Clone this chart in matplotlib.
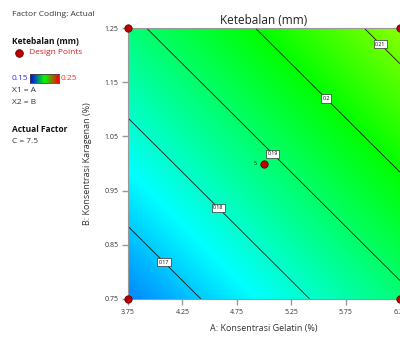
import numpy as np
import matplotlib
matplotlib.use("Agg")
import matplotlib.pyplot as plt
from matplotlib.colors import LinearSegmentedColormap

# Fitted linear model for Ketebalan (mm): Z = b0 + bA*A + bB*B
intercept = 0.0883
coef_A = 0.01
coef_B = 0.05
a_range = [3.75, 6.25]
b_range = [0.75, 1.25]
x_ticks = [3.75, 4.25, 4.75, 5.25, 5.75, 6.25]
y_ticks = [0.75, 0.85, 0.95, 1.05, 1.15, 1.25]
contour_levels = [0.17, 0.18, 0.19, 0.20, 0.21]
contour_label_text = ["0.17", "0.18", "0.19", "0.2", "0.21"]
label_pos_A = [4.08, 4.58, 5.08, 5.57, 6.07]
design_A = [3.75, 3.75, 6.25, 6.25, 5.0]
design_B = [0.75, 1.25, 0.75, 1.25, 1.0]
color_min, color_max = 0.15, 0.25

cmap = LinearSegmentedColormap.from_list(
    "de", [(0, 0, 1), (0, 1, 1), (0, 1, 0), (1, 1, 0), (1, 0, 0)])

fig = plt.figure(figsize=(4.0, 3.38), dpi=100)
plt.rcParams['font.family'] = ['Open Sans', 'DejaVu Sans']
ax = fig.add_axes([0.32, 0.1154, 0.68, 0.8017])

A = np.linspace(a_range[0], a_range[1], 300)
B = np.linspace(b_range[0], b_range[1], 300)
AA, BB = np.meshgrid(A, B)
Z = intercept + coef_A * AA + coef_B * BB

ax.imshow(Z, extent=[a_range[0], a_range[1], b_range[0], b_range[1]],
          origin="lower", aspect="auto", cmap=cmap, vmin=color_min,
          vmax=color_max, interpolation="bilinear")
cs = ax.contour(AA, BB, Z, levels=contour_levels, colors="#1a1a1a",
                linewidths=0.6)

for lev, txt, la in zip(contour_levels, contour_label_text, label_pos_A):
    lb = (lev - intercept - coef_A * la) / coef_B
    ax.text(la, lb, txt, fontsize=3.8, ha="center", va="center",
            bbox=dict(boxstyle="square,pad=0.3", fc="white", ec="#333333",
                      lw=0.5), zorder=5)

ax.scatter(design_A, design_B, s=28, c="#c00000", edgecolors="#600000",
           linewidths=0.6, zorder=6, clip_on=False)
ax.text(5.0 - 0.07, 1.0, "5", fontsize=3.8, ha="right", va="center",
        zorder=6)

ax.set_xlim(a_range)
ax.set_ylim(b_range)
ax.set_xticks(x_ticks)
ax.set_xticklabels([f"{v:.2f}" for v in x_ticks])
ax.set_yticks(y_ticks)
ax.set_yticklabels([f"{v:.2f}" for v in y_ticks])
ax.tick_params(direction="out", length=4, width=1, color="#999999",
               labelsize=5, labelcolor="#333333", pad=3)
for s in ax.spines.values():
    s.set_color("#999999")
    s.set_linewidth(0.8)

ax.set_title("Ketebalan (mm)", fontsize=8.5, color="#222222", pad=3)
ax.set_xlabel("A: Konsentrasi Gelatin (%)", fontsize=6.5, color="#333333",
              labelpad=6)
ax.set_ylabel("B: Konsentrasi Karagenan (%)", fontsize=6.5, color="#333333",
              labelpad=9)

# Left legend panel
def ft(xp, yp, s, **kw):
    fig.text(xp / 400, 1 - yp / 338, s, va="center", ha="left", **kw)

ft(12, 15, "Factor Coding: Actual", fontsize=6, color="#333333")
ft(12, 41, "Ketebalan (mm)", fontsize=6, color="#111111", weight="bold")
fig.add_artist(plt.Line2D([19 / 400], [1 - 53 / 338], marker="o",
                          markersize=5.5, color="#c00000",
                          markeredgecolor="#600000", markeredgewidth=0.6,
                          transform=fig.transFigure))
ft(29, 53, "Design Points", fontsize=6, color="#d02020")
ft(12, 78, "0.15", fontsize=6, color="#3030ff")
cax = fig.add_axes([30 / 400, 1 - 83 / 338, 29 / 400, 9 / 338])
cax.imshow(np.linspace(0, 1, 100)[None, :], aspect="auto",
           cmap=LinearSegmentedColormap.from_list(
               "lg", [(0, 0, 1), (0, 1, 0), (1, 0, 0)]))
cax.set_xticks([])
cax.set_yticks([])
for s in cax.spines.values():
    s.set_color("#444444")
    s.set_linewidth(0.6)
ft(61, 78, "0.25", fontsize=6, color="#ff3030")
ft(12, 91, "X1 = A", fontsize=6, color="#333333")
ft(12, 103, "X2 = B", fontsize=6, color="#333333")
ft(12, 129, "Actual Factor", fontsize=6, color="#111111", weight="bold")
ft(12, 142, "C = 7.5", fontsize=6, color="#333333")

fig.savefig("out.png", dpi=100)
